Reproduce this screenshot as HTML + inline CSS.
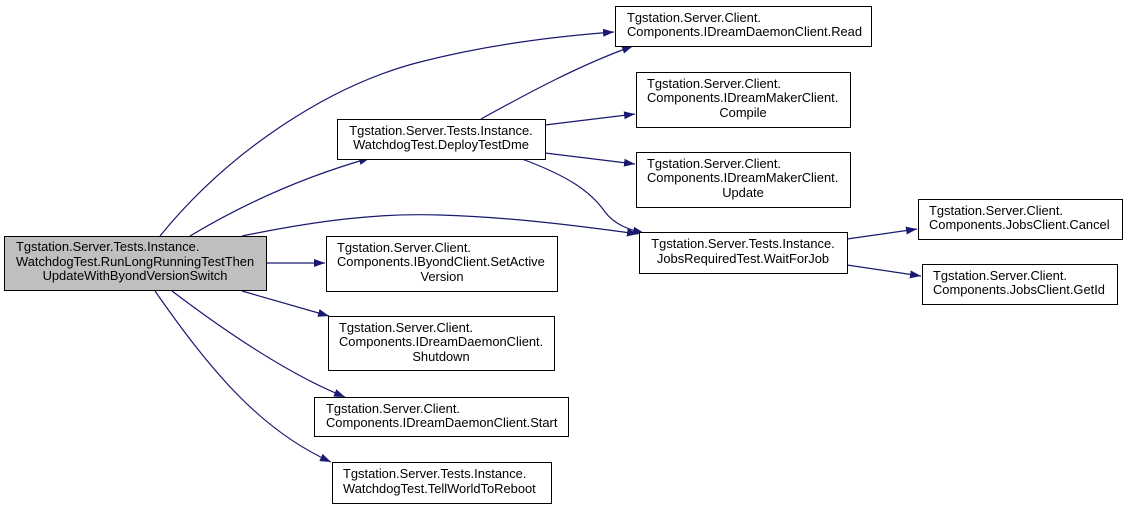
<!DOCTYPE html>
<html><head><meta charset="utf-8"><style>
html,body{margin:0;padding:0;background:#fff;}
svg text{font-family:"Liberation Sans",Arial,sans-serif;font-size:12.9px;fill:#000;}
</style></head><body>
<svg width="1127" height="508" viewBox="0 0 1127 508" xmlns="http://www.w3.org/2000/svg">
<defs>
<marker id="a" markerWidth="11" markerHeight="8" refX="11" refY="4" orient="auto" markerUnits="userSpaceOnUse">
<path d="M0,0 L11,4 L0,8 Z" fill="#191970"/>
</marker>
</defs>
<g fill="none" stroke="#191970" stroke-width="1.2" marker-end="url(#a)">
<path d="M160,236 C230,150 330,85 420,62 C490,44 560,36 614,32"/>
<path d="M190,236 C250,200 310,175 370,158"/>
<path d="M242,236 C320,220 380,213 440,215 C510,217 580,226 638,234"/>
<path d="M266,263 L325,263"/>
<path d="M242,291 L329,316"/>
<path d="M172,291 C230,335 290,375 345,397"/>
<path d="M155,291 C210,370 260,430 331,462"/>
<path d="M481,119 C530,92 580,65 633,46"/>
<path d="M545,125 L635,114"/>
<path d="M545,153 L635,164"/>
<path d="M522,159 C565,175 590,190 605,212 C615,225 630,230 644,233"/>
<path d="M847,239 L917,229"/>
<path d="M847,265 L921,276"/>
</g>
<g stroke="#000" stroke-width="1">
<rect x="4.5" y="236.5" width="262" height="54" fill="#bfbfbf"/>
<rect x="337.5" y="119.5" width="208" height="40" fill="#fff"/>
<rect x="615.5" y="6.5" width="256" height="40" fill="#fff"/>
<rect x="636.5" y="72.5" width="214" height="55" fill="#fff"/>
<rect x="636.5" y="152.5" width="214" height="55" fill="#fff"/>
<rect x="639.5" y="232.5" width="208" height="41" fill="#fff"/>
<rect x="918.5" y="199.5" width="204" height="40" fill="#fff"/>
<rect x="922.5" y="264.5" width="195" height="40" fill="#fff"/>
<rect x="326.5" y="236.5" width="231" height="55" fill="#fff"/>
<rect x="328.5" y="316.5" width="226" height="54" fill="#fff"/>
<rect x="314.5" y="397.5" width="254" height="39" fill="#fff"/>
<rect x="332.5" y="462.5" width="219" height="41" fill="#fff"/>
</g>
<text x="16" y="251">Tgstation.Server.Tests.Instance.</text>
<text x="16" y="266">WatchdogTest.RunLongRunningTestThen</text>
<text x="135" y="280" text-anchor="middle">UpdateWithByondVersionSwitch</text>

<text x="441" y="135" text-anchor="middle">Tgstation.Server.Tests.Instance.</text>
<text x="441" y="149" text-anchor="middle">WatchdogTest.DeployTestDme</text>

<text x="627" y="22">Tgstation.Server.Client.</text>
<text x="627" y="36">Components.IDreamDaemonClient.Read</text>

<text x="647" y="88">Tgstation.Server.Client.</text>
<text x="647" y="102">Components.IDreamMakerClient.</text>
<text x="743" y="117" text-anchor="middle">Compile</text>

<text x="647" y="168">Tgstation.Server.Client.</text>
<text x="647" y="182">Components.IDreamMakerClient.</text>
<text x="743" y="197" text-anchor="middle">Update</text>

<text x="743" y="248" text-anchor="middle">Tgstation.Server.Tests.Instance.</text>
<text x="743" y="263" text-anchor="middle">JobsRequiredTest.WaitForJob</text>

<text x="929" y="215">Tgstation.Server.Client.</text>
<text x="929" y="229">Components.JobsClient.Cancel</text>

<text x="933" y="280">Tgstation.Server.Client.</text>
<text x="933" y="294">Components.JobsClient.GetId</text>

<text x="337" y="252">Tgstation.Server.Client.</text>
<text x="337" y="266">Components.IByondClient.SetActive</text>
<text x="442" y="281" text-anchor="middle">Version</text>

<text x="339" y="332">Tgstation.Server.Client.</text>
<text x="339" y="346">Components.IDreamDaemonClient.</text>
<text x="441" y="361" text-anchor="middle">Shutdown</text>

<text x="326" y="413">Tgstation.Server.Client.</text>
<text x="326" y="427">Components.IDreamDaemonClient.Start</text>

<text x="343" y="478">Tgstation.Server.Tests.Instance.</text>
<text x="343" y="493">WatchdogTest.TellWorldToReboot</text>
</svg>
</body></html>
